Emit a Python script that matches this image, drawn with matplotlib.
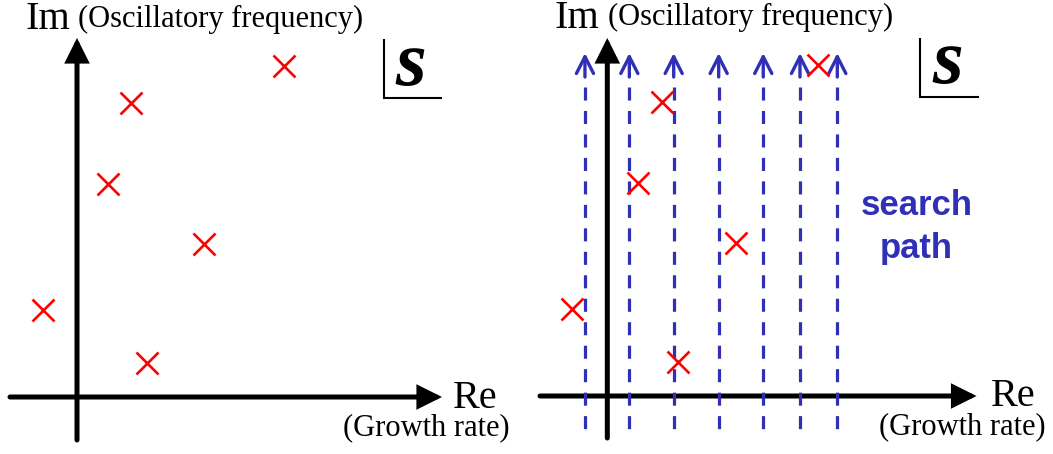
import matplotlib
matplotlib.use("Agg")
import matplotlib.pyplot as plt

plt.rcParams["lines.scale_dashes"] = False

# Roots of the characteristic equation in the complex s-plane
root_re = [-3.45, 3.05, 5.35, 12.65, 6.95, 20.65]
root_im = [8.7, 21.3, 29.4, 15.35, 3.45, 33.15]

# Real-part values of the vertical search paths
search_re = [-2.19, 2.16, 6.51, 10.92, 15.29, 18.89, 22.55]

axis_label_im = "Im"
axis_note_im = "(Oscillatory frequency)"
axis_label_re = "Re"
axis_note_re = "(Growth rate)"
plane_name = "s"
search_words = ["search", "path"]

RED = "#ff0000"
BLUE = "#3030b6"
SERIF = "Liberation Serif"

W, H = 1053, 454
fig = plt.figure(figsize=(W / 100, H / 100), dpi=100)


def make_axes(x0_px, w_px, origin_x_px, origin_y_px, sx):
    ax = fig.add_axes([x0_px / W, 0, w_px / W, 1])
    ax.set_xlim(-(origin_x_px - x0_px) / sx, (x0_px + w_px - origin_x_px) / sx)
    ax.set_ylim(-(H - origin_y_px) / 10, origin_y_px / 10)
    ax.set_axis_off()
    return ax


def draw_plane(ax, x_tail, x_tip, y_tail, y_tip):
    arrow = dict(arrowstyle="-|>,head_length=0.42,head_width=0.21",
                 color="black", lw=3.6, mutation_scale=30,
                 shrinkA=0, shrinkB=0, joinstyle="miter")
    ax.annotate("", xy=(x_tip, 0), xytext=(x_tail, 0), arrowprops=arrow)
    ax.annotate("", xy=(0, y_tip), xytext=(0, y_tail), arrowprops=arrow)

    ax.text(-5.15, 36.8, axis_label_im, family=SERIF, fontsize=29,
            ha="left", va="baseline")
    ax.text(0.1, 37.05, axis_note_im, family=SERIF, fontsize=22,
            ha="left", va="baseline")
    ax.text(37.6, -1.05, axis_label_re, family=SERIF, fontsize=29,
            ha="left", va="baseline")
    ax.text(26.6, -3.8, axis_note_re, family=SERIF, fontsize=22,
            ha="left", va="baseline")

    # s-plane corner tag
    ax.plot([30.65, 30.65, 36.45], [35.8, 29.9, 29.9], color="black",
            lw=1.5, solid_capstyle="butt", solid_joinstyle="miter")
    ax.text(33.4, 33.1, plane_name, family=SERIF, style="italic",
            weight="bold", fontsize=57, ha="center", va="center")

    ax.plot(root_re, root_im, linestyle="none", marker="x", color=RED,
            markersize=15.8, markeredgewidth=1.9, zorder=5)


# Left panel: roots only
axL = make_axes(0, 530, 77, 397, 10.0)
draw_plane(axL, -6.7, 36.5, -4.3, 35.9)

# Right panel: roots with the search paths
axR = make_axes(530, 523, 607.3, 396, 10.2)
draw_plane(axR, -6.6, 36.2, -4.2, 35.8)

for x in search_re:
    line, = axR.plot([x, x], [30.9, -3.4], color=BLUE, lw=2.3,
                     solid_capstyle="butt", zorder=3)
    line.set_dashes((9.4, 7.5))
    line.set_dash_capstyle("butt")
    axR.annotate("", xy=(x, 34.3), xytext=(x, 31.9),
                 arrowprops=dict(arrowstyle="->,head_length=0.55,head_width=0.28",
                                 color=BLUE, lw=2.4, mutation_scale=22,
                                 shrinkA=0, shrinkB=0), zorder=3)

axR.text(30.3, 18.1, search_words[0], color=BLUE, family="Liberation Sans",
         weight="bold", fontsize=25, ha="center", va="baseline")
axR.text(30.3, 13.8, search_words[1], color=BLUE, family="Liberation Sans",
         weight="bold", fontsize=25, ha="center", va="baseline")

fig.savefig("out.png", dpi=100)
